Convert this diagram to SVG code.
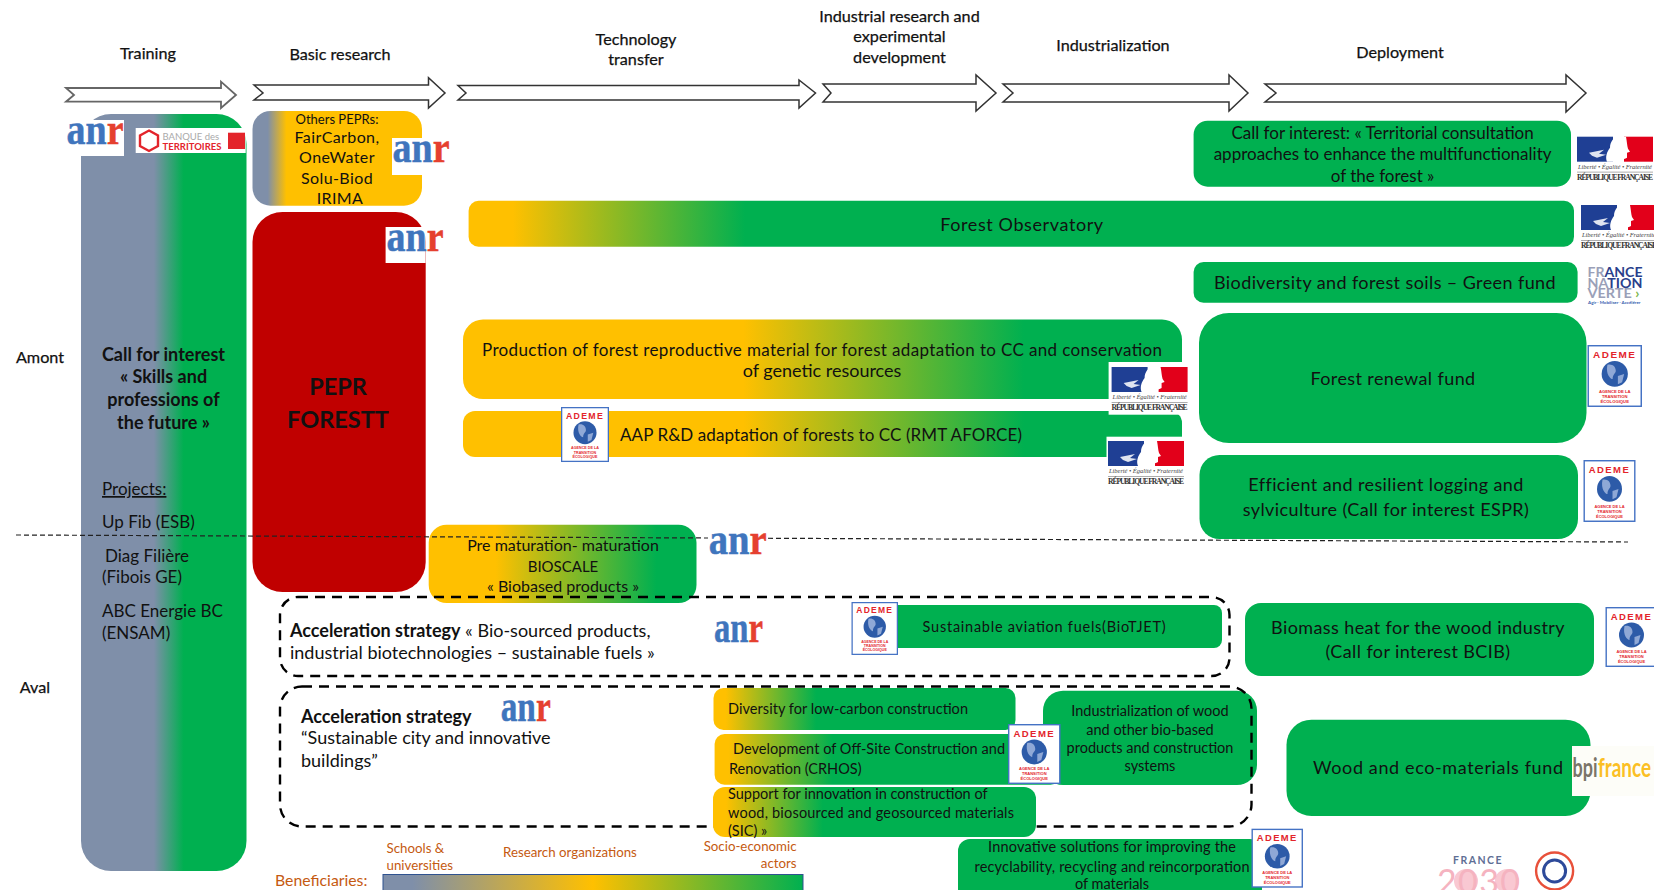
<svg xmlns="http://www.w3.org/2000/svg" xmlns:xlink="http://www.w3.org/1999/xlink" width="1654" height="890" viewBox="0 0 1654 890">
<style>
text{font-family:Lato,"Liberation Sans",sans-serif;fill:#111}
.c{text-anchor:middle}
.h{font-size:16.2px;stroke:#111;stroke-width:.25}
.s15{font-size:14.5px}
.s16{font-size:16px}
.s17{font-size:17px}
.s18{font-size:18px}
.s19{font-size:19px}
.b{font-weight:700}
.o{fill:#c55a11;font-size:13.300px}
.arrow{fill:#fff;stroke:#333;stroke-width:1.5}
.dash{fill:none;stroke:#000;stroke-width:2.4;stroke-dasharray:10 7}
.thin{fill:none;stroke:#222;stroke-width:1.2;stroke-dasharray:5 3}
.green{fill:#00b050}
.wh{fill:#fff}
.anr{font-family:"Liberation Serif",serif;font-weight:700;font-size:45px}
.anr .a{fill:#3f75bd;stroke:#3f75bd;stroke-width:.5}
.anr .r{fill:#e5402f;stroke:#e5402f;stroke-width:.5}
.rf1{font-family:"Liberation Serif",serif;font-style:italic;font-size:6.5px;fill:#444}
.rf2{font-family:"Liberation Serif",serif;font-weight:700;font-size:7.6px;fill:#333}
.ad1{font-family:"Liberation Sans",sans-serif;font-weight:700;font-size:9.5px;fill:#e3242b;letter-spacing:1.4px}
.ad2{font-family:"Liberation Sans",sans-serif;font-weight:700;font-size:4px;fill:#e3242b}
</style>
<defs>
<linearGradient id="gTrain" x1="0" x2="1" y1="0" y2="0"><stop offset=".44" stop-color="#7f8fa9"/><stop offset=".62" stop-color="#00b050"/></linearGradient>
<linearGradient id="gOther" x1="0" x2="1" y1="0" y2="0"><stop offset=".09" stop-color="#7f8fa9"/><stop offset=".2" stop-color="#ffc000"/></linearGradient>
<linearGradient id="gObs" x1="0" x2="1" y1="0" y2="0"><stop offset=".04" stop-color="#ffc000"/><stop offset=".25" stop-color="#00b050"/></linearGradient>
<linearGradient id="gProd" x1="0" x2="1" y1="0" y2="0"><stop offset=".39" stop-color="#ffc000"/><stop offset=".78" stop-color="#00b050"/></linearGradient>
<linearGradient id="gPre" x1="0" x2="1" y1="0" y2="0"><stop offset=".25" stop-color="#ffc000"/><stop offset=".85" stop-color="#00b050"/></linearGradient>
<linearGradient id="gShort" x1="0" x2="1" y1="0" y2="0"><stop offset=".04" stop-color="#ffc000"/><stop offset=".34" stop-color="#00b050"/></linearGradient>
<linearGradient id="gBar" x1="0" x2="1" y1="0" y2="0"><stop offset="0" stop-color="#7f8fa9"/><stop offset=".07" stop-color="#7f8fa9"/><stop offset=".5" stop-color="#ffc000"/><stop offset="1" stop-color="#00b050"/></linearGradient>
<g id="rf">
<rect x="0" y="0" width="36" height="25" fill="#1f3f94"/>
<rect x="47" y="0" width="29" height="25" fill="#e2001a"/>
<path d="M30 25C28 20 30 15 33 11C33 5 37 0 41 0L49 0C50 5 50 9 51 12L53 15L50 16L50 21C48 22 46 22 44 25Z" fill="#fff"/>
<path d="M12 16L27 13L22 17L29 18L20 21L15 19Z" fill="#dfe4f0"/>
<text class="rf1" x="1" y="32" textLength="74">Liberté • Égalité • Fraternité</text>
<rect x="0" y="35" width="76" height="0.8" fill="#999"/>
<text class="rf2" x="0" y="43" textLength="76">RÉPUBLIQUE FRANÇAISE</text>
</g>
<g id="ademe">
<rect x="0.7" y="0.7" width="50.6" height="58.6" fill="#fff" stroke="#4472c4" stroke-width="1.4"/>
<text class="ad1" x="26" y="13" text-anchor="middle">ADEME</text>
<circle cx="26" cy="28" r="12.500" fill="#2d5ba8"/>
<path d="M19 19C24 18 27 21 27 25C27 28 24 28 24 33C22 33 17 28 19 19ZM29 30L35 28L33 36L29 38Z" fill="#8fa8d6"/>
<text class="ad2" x="26" y="46" text-anchor="middle">AGENCE DE LA</text>
<text class="ad2" x="26" y="51" text-anchor="middle">TRANSITION</text>
<text class="ad2" x="26" y="56" text-anchor="middle">ÉCOLOGIQUE</text>
</g>
</defs>
<rect width="1654" height="890" fill="#fff"/>
<g id="connectors">
<polygon class="arrow" style="stroke:#666;stroke-width:1.8" points="66,88 221,88 221,81.7 236,95 221,108 221,101.7 66,101.7 74,95"/>
<polygon class="arrow" points="254,85 428.5,85 428.5,77.7 445,93 428.5,108 428.5,100 254,100 263,93"/>
<polygon class="arrow" points="458,85.5 799,85.5 799,80 815.5,93 799,108 799,100 458,100 466,93"/>
<polygon class="arrow" points="823,84 976,84 976,75 996,93 976,111 976,102 823,102 831,93"/>
<polygon class="arrow" points="1003,84 1229,84 1229,75 1248,93 1229,111 1229,102 1003,102 1013,93"/>
<polygon class="arrow" points="1265,84 1566,84 1566,75 1586,93 1566,112 1566,102 1265,102 1276,93"/>
</g>
<g id="phase-labels">
<text class="h c" x="148" y="59">Training</text>
<text class="h c" x="340" y="60">Basic research</text>
<text class="h c" x="636" y="45">Technology</text>
<text class="h c" x="636" y="65">transfer</text>
<text class="h c" x="899.5" y="22">Industrial research and</text>
<text class="h c" x="899.5" y="42">experimental</text>
<text class="h c" x="899.5" y="63">development</text>
<text class="h c" x="1113" y="51">Industrialization</text>
<text class="h c" x="1400" y="58">Deployment</text>
<text class="h c" x="40" y="363">Amont</text>
<text class="h c" x="35" y="693">Aval</text>
</g>
<g id="node-training">
<rect x="81" y="114" width="165.5" height="757" rx="30" fill="url(#gTrain)"/>
<text class="s18 b c" x="163.5" y="361">Call for interest</text>
<text class="s18 b c" x="163.5" y="383">« Skills and</text>
<text class="s18 b c" x="163.5" y="406">professions of</text>
<text class="s18 b c" x="163.5" y="429">the future »</text>
<text class="s17" x="102" y="495" text-decoration="underline">Projects:</text>
<text class="s17" x="102" y="528">Up Fib (ESB)</text>
<text class="s17" x="105" y="562">Diag Filière</text>
<text class="s17" x="102" y="583">(Fibois GE)</text>
<text class="s17" x="102" y="617">ABC Energie BC</text>
<text class="s17" x="102" y="639">(ENSAM)</text>
</g>
<g id="node-others">
<rect x="252.5" y="111" width="169.5" height="94.700" rx="18" fill="url(#gOther)"/>
<text class="c" style="font-size:13px" x="337" y="123.500">Others PEPRs:</text>
<text class="s16 c" x="337" y="143" letter-spacing=".4">FairCarbon,</text>
<text class="s16 c" x="337" y="163" letter-spacing=".4">OneWater</text>
<text class="s16 c" x="337" y="184" letter-spacing=".4">Solu-Biod</text>
<text class="s16 c" x="340" y="204" letter-spacing=".4">IRIMA</text>
</g>
<g id="node-pepr">
<rect x="252.5" y="212" width="173.200" height="380" rx="30" fill="#c00000"/>
<text class="b c" style="font-size:23.500px" x="338" y="395">PEPR</text>
<text class="b c" style="font-size:23.500px" x="338" y="428">FORESTT</text>
</g>
<g id="node-observatory">
<rect x="468.600" y="200.700" width="1105.400" height="46" rx="10" fill="url(#gObs)"/>
<text class="s18 c" x="1022" y="231" letter-spacing=".6">Forest Observatory</text>
</g>
<g id="node-territorial">
<rect class="green" x="1193.600" y="120.700" width="377.400" height="66" rx="14"/>
<text class="s17 c" x="1382.600" y="139">Call for interest: « Territorial consultation</text>
<text class="s17 c" x="1382.600" y="160">approaches to enhance the multifunctionality</text>
<text class="s17 c" x="1382.600" y="182">of the forest »</text>
</g>
<g id="node-biodiversity">
<rect class="green" x="1193.600" y="262" width="384" height="40.700" rx="10"/>
<text class="s18 c" x="1385" y="289" letter-spacing=".4">Biodiversity and forest soils – Green fund</text>
</g>
<g id="node-renewal">
<rect class="green" x="1199" y="313" width="387.500" height="130" rx="30"/>
<text class="s18 c" x="1393" y="385" letter-spacing=".4">Forest renewal fund</text>
</g>
<g id="node-logging">
<rect class="green" x="1199.500" y="455" width="378.500" height="84" rx="20"/>
<text class="s18 c" x="1386" y="491" letter-spacing=".4">Efficient and resilient logging and</text>
<text class="s18 c" x="1386" y="515.500" letter-spacing=".4">sylviculture (Call for interest ESPR)</text>
</g>
<g id="node-production">
<rect x="463" y="319.600" width="719" height="79.400" rx="20" fill="url(#gProd)"/>
<text class="s17 c" x="822" y="355.500" textLength="680">Production of forest reproductive material for forest adaptation to CC and conservation</text>
<text class="s18 c" x="822" y="377">of genetic resources</text>
</g>
<g id="node-aap">
<rect x="463" y="411" width="719" height="46" rx="12" fill="url(#gProd)"/>
<text class="s17" x="620" y="441" textLength="402">AAP R&amp;D adaptation of forests to CC (RMT AFORCE)</text>
</g>
<g id="node-prematuration">
<rect x="428.700" y="524.700" width="267.800" height="78.300" rx="18" fill="url(#gPre)"/>
<text class="s16 c" x="563" y="551">Pre maturation- maturation</text>
<text class="s16 c" x="563" y="571.700" style="font-size:15px">BIOSCALE</text>
<text class="s16 c" x="563" y="592">« Biobased products »</text>
</g>
<g id="node-industrialization">
<rect class="green" x="1043" y="690.700" width="214" height="94.300" rx="20"/>
<text class="s15 c" x="1150" y="716">Industrialization of wood</text>
<text class="s15 c" x="1150" y="735">and other bio-based</text>
<text class="s15 c" x="1150" y="753">products and construction</text>
<text class="s15 c" x="1150" y="771">systems</text>
</g>
<g id="node-acceleration-1">
<rect class="dash" x="280" y="597" width="949.500" height="79" rx="18"/>
<text class="s18" x="290" y="637"><tspan class="b">Acceleration strategy</tspan> « Bio-sourced products,</text>
<text class="s18" x="290" y="659">industrial biotechnologies – sustainable fuels »</text>
</g>
<g id="node-acceleration-2">
<rect class="dash" x="280" y="686.500" width="971.500" height="140" rx="22"/>
<text class="s18 b" x="301" y="722.700">Acceleration strategy</text>
<text class="s18" x="301" y="744">“Sustainable city and innovative</text>
<text class="s18" x="301" y="767">buildings”</text>
</g>
<g id="node-aviation">
<rect class="green" x="880" y="605" width="342" height="43" rx="8"/>
<text class="s15" x="922.600" y="632" textLength="243">Sustainable aviation fuels(BioTJET)</text>
</g>
<g id="node-diversity">
<rect x="713.500" y="688" width="302" height="42" rx="10" fill="url(#gShort)"/>
<text class="s15" x="728" y="714" textLength="240">Diversity for low-carbon construction</text>
</g>
<g id="node-development">
<rect x="714.600" y="734" width="346" height="50.700" rx="10" fill="url(#gShort)"/>
<text class="s15" x="733" y="754" textLength="272">Development of Off-Site Construction and</text>
<text class="s15" x="729" y="774">Renovation (CRHOS)</text>
</g>
<g id="node-support">
<rect x="713" y="787" width="323" height="50" rx="12" fill="url(#gShort)"/>
<text class="s15" x="728" y="799">Support for innovation in construction of</text>
<text class="s15" x="728" y="818" textLength="286">wood, biosourced and geosourced materials</text>
<text class="s15" x="728" y="836">(SIC) »</text>
</g>
<g id="node-innovative">
<rect class="green" x="958" y="839" width="304" height="70" rx="12"/>
<text class="s15 c" x="1112" y="852" textLength="248">Innovative solutions for improving the</text>
<text class="s15 c" x="1112" y="872" textLength="275">recyclability, recycling and reincorporation</text>
<text class="s15 c" x="1112" y="889">of materials</text>
</g>
<g id="node-biomass">
<rect class="green" x="1245" y="603" width="349" height="73" rx="16"/>
<text class="s18 c" x="1418" y="634" letter-spacing=".4">Biomass heat for the wood industry</text>
<text class="s18 c" x="1418" y="658" letter-spacing=".4">(Call for interest BCIB)</text>
</g>
<g id="node-wood">
<rect class="green" x="1286.500" y="719.700" width="304" height="96.300" rx="25"/>
<text class="s18" x="1313" y="774" textLength="250">Wood and eco-materials fund</text>
</g>
<line id="amont-aval" class="thin" x1="16" y1="535" x2="1628" y2="542"/>
<g id="logos">
<g id="logo-anr-training"><rect class="wh" x="66.800" y="120" width="57.200" height="36"/><text class="anr" x="66.500" y="144" textLength="57" lengthAdjust="spacingAndGlyphs"><tspan class="a">an</tspan><tspan class="r">r</tspan></text></g>
<g id="logo-bdt"><rect class="wh" x="135.700" y="128" width="110" height="25"/>
<polygon points="149,130.500 158,135.500 158,146 149,151 140,146 140,135.500" fill="none" stroke="#e3242b" stroke-width="2.400"/>
<text x="162.500" y="140" style="font-size:9.500px;fill:#aaa">BANQUE des</text>
<text x="162.500" y="150" style="font-size:9.500px;fill:#e3242b;font-weight:700">TERRITOIRES</text>
<rect x="228" y="132.700" width="17" height="16.300" fill="#e3242b"/></g>
<g id="logo-anr-others"><rect class="wh" x="392" y="138" width="58" height="37"/><text class="anr" x="392.500" y="162" textLength="57" lengthAdjust="spacingAndGlyphs"><tspan class="a">an</tspan><tspan class="r">r</tspan></text></g>
<g id="logo-anr-pepr"><rect class="wh" x="385.600" y="227" width="40" height="36"/><text class="anr" x="386.500" y="250.700" textLength="57" lengthAdjust="spacingAndGlyphs"><tspan class="a">an</tspan><tspan class="r">r</tspan></text></g>
<g id="logo-anr-pre"><rect class="wh" x="708" y="528" width="60" height="28"/><text class="anr" x="708.700" y="554" textLength="58" lengthAdjust="spacingAndGlyphs"><tspan class="a">an</tspan><tspan class="r">r</tspan></text></g>
<g id="logo-anr-acc1"><text class="anr" x="714" y="641.700" textLength="49" lengthAdjust="spacingAndGlyphs"><tspan class="a">an</tspan><tspan class="r">r</tspan></text></g>
<g id="logo-anr-acc2"><text class="anr" x="500.700" y="721" textLength="50" lengthAdjust="spacingAndGlyphs"><tspan class="a">an</tspan><tspan class="r">r</tspan></text></g>
<use xlink:href="#rf" href="#rf" x="1577" y="136.700"/>
<use xlink:href="#rf" href="#rf" x="1581" y="205"/>
<g id="logo-rf-production"><rect class="wh" x="1108.600" y="362" width="79.400" height="52.700"/><use xlink:href="#rf" href="#rf" x="1111.600" y="367"/></g>
<g id="logo-rf-aap"><rect class="wh" x="1106.500" y="436.700" width="78" height="50"/><use xlink:href="#rf" href="#rf" x="1108" y="441"/></g>
<g id="logo-fnv" style="font-weight:700;font-size:13px">
<text x="1587.500" y="276.700" style="fill:#9aa0b8" textLength="55" lengthAdjust="spacingAndGlyphs"><tspan>FR</tspan><tspan style="fill:#2a3f8c">ANCE</tspan></text>
<text x="1587.500" y="287.500" style="fill:#9aa0b8" textLength="55" lengthAdjust="spacingAndGlyphs"><tspan>NA</tspan><tspan style="fill:#2a3f8c">TION</tspan></text>
<text x="1587.500" y="298" style="fill:#9aa0b8" textLength="52" lengthAdjust="spacingAndGlyphs">VERTE<tspan style="fill:#7ab648"> ›</tspan></text>
<text x="1588" y="304" style="font-size:4.500px;fill:#3a5fb0">Agir · Mobiliser · Accélérer</text>
</g>
<use xlink:href="#ademe" href="#ademe" transform="translate(1587.500 345) scale(1.048 1.033)"/>
<use xlink:href="#ademe" href="#ademe" transform="translate(1583.500 460) scale(1 1.033)"/>
<use xlink:href="#ademe" href="#ademe" transform="translate(561 407) scale(.923 .917)"/>
<use xlink:href="#ademe" href="#ademe" transform="translate(851.500 602) scale(.894 .883)"/>
<use xlink:href="#ademe" href="#ademe" transform="translate(1605.500 607)"/>
<use xlink:href="#ademe" href="#ademe" transform="translate(1008 724) scale(1.01 1)"/>
<use xlink:href="#ademe" href="#ademe" transform="translate(1251.500 828.700) scale(.99 .983)"/>
<g id="logo-bpi"><rect x="1572" y="746" width="82" height="50" fill="#fdfdf8"/>
<text x="1572.500" y="777" style="font-size:27px;fill:#7a7468;font-weight:700" textLength="25" lengthAdjust="spacingAndGlyphs">bpi</text>
<text x="1598" y="777" style="font-size:27px;fill:#fbbf24;font-weight:700" textLength="53" lengthAdjust="spacingAndGlyphs">france</text></g>
<g id="logo-2030">
<text x="1478" y="864" class="c b" style="font-size:10.500px;fill:#5f6f95;letter-spacing:1.500px">FRANCE</text>
<circle cx="1466" cy="881" r="12" fill="#f9c8d2"/>
<circle cx="1507" cy="881" r="12" fill="#f9c8d2"/>
<text x="1437" y="894" style="font-size:34px;fill:#f5b3c0" textLength="83">2030</text>
</g>
<g id="logo-seal"><circle cx="1554.600" cy="871" r="18.500" fill="#fff" stroke="#e8503a" stroke-width="2.400"/><circle cx="1554.600" cy="871" r="11" fill="#fff" stroke="#2d4a9a" stroke-width="3"/></g>
</g>
<g id="legend">
<text class="o" style="font-size:15.800px" x="275" y="886">Beneficiaries:</text>
<text class="o" x="386.500" y="853">Schools &amp;</text>
<text class="o" x="386.500" y="870">universities</text>
<text class="o" x="503" y="857">Research organizations</text>
<text class="o" text-anchor="end" x="796.600" y="851">Socio-economic</text>
<text class="o" text-anchor="end" x="796.600" y="868">actors</text>
<rect x="383" y="874.500" width="420" height="30" fill="url(#gBar)" stroke="#2f528f" stroke-width="1"/>
</g>
</svg>
